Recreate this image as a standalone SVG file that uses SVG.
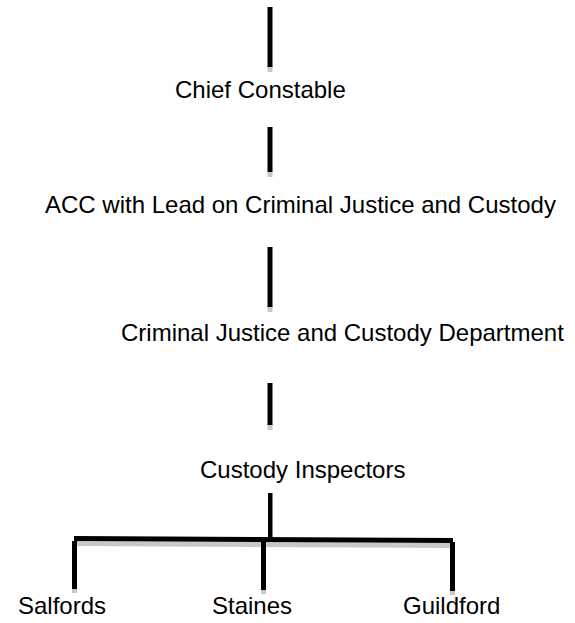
<svg xmlns="http://www.w3.org/2000/svg" width="575" height="623" viewBox="0 0 575 623">
<style>
.t{font-family:"Liberation Sans",Arial,sans-serif;font-size:24px;fill:#000}
.ln{fill:#000}
.sh{fill:#c8c8c8}
</style>
<rect width="575" height="623" fill="#fff"/>
<g id="connectors">
<rect class="sh" x="267.5" y="66" width="5" height="6"/>
<rect class="ln" x="267.5" y="7" width="5" height="60"/>
<rect class="sh" x="267.5" y="171" width="5" height="6"/>
<rect class="ln" x="267.5" y="127" width="5" height="45"/>
<rect class="sh" x="267.5" y="306" width="5" height="6"/>
<rect class="ln" x="267.5" y="247" width="5" height="60"/>
<rect class="sh" x="267.5" y="424" width="5" height="6"/>
<rect class="ln" x="267.5" y="383" width="5" height="42"/>
<rect class="ln" x="268" y="493" width="4.5" height="46"/>
<polygon class="sh" points="74,541 453,543 453,548 74,546"/>
<polygon class="ln" points="74,536 453,538 453,543 74,541"/>
<rect class="sh" x="72" y="588" width="5" height="5"/>
<rect class="ln" x="72" y="541" width="5" height="48"/>
<rect class="sh" x="261" y="589" width="5" height="5"/>
<rect class="ln" x="261" y="542" width="5" height="48"/>
<rect class="sh" x="450" y="590" width="5" height="5"/>
<rect class="ln" x="450" y="542" width="5" height="49"/>
</g>
<g id="chief"><text class="t" x="175" y="98">Chief Constable</text></g>
<g id="acc"><text class="t" x="45" y="213">ACC with Lead on Criminal Justice and Custody</text></g>
<g id="cjcd"><text class="t" x="121" y="341">Criminal Justice and Custody Department</text></g>
<g id="inspectors"><text class="t" x="200" y="478">Custody Inspectors</text></g>
<g id="salfords"><text class="t" x="18" y="614">Salfords</text></g>
<g id="staines"><text class="t" x="212" y="614">Staines</text></g>
<g id="guildford"><text class="t" x="403" y="614">Guildford</text></g>
</svg>
